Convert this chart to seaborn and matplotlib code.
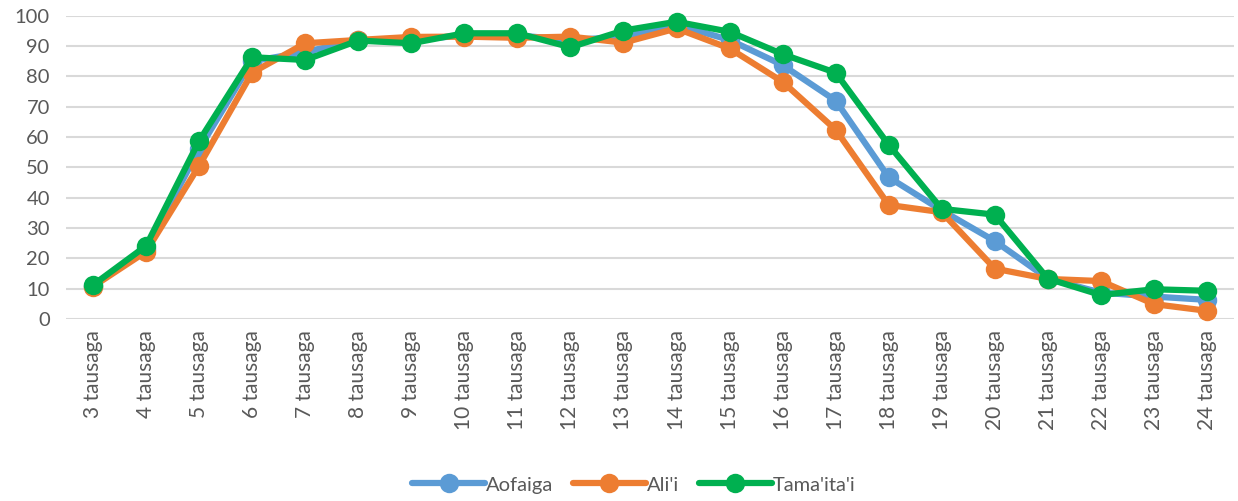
import matplotlib
matplotlib.use("Agg")
import matplotlib.pyplot as plt
import seaborn as sns
import pandas as pd

categories = [f"{i} tausaga" for i in range(3, 25)]
aofaiga = [11, 23, 56, 85, 88, 92, 92, 93.5, 93.5, 92, 93, 97, 92, 83.7, 72, 46.7, 35.8, 25.7, 13.3, 8.7, 7.4, 6.3]
alii = [10.7, 22.2, 50.5, 81.2, 90.9, 92, 93, 93.1, 92.7, 93.1, 91.1, 95.8, 89.2, 78.2, 62.4, 37.6, 35.2, 16.6, 13.2, 12.5, 4.9, 2.7]
tamaitai = [11.2, 24.1, 58.7, 86.3, 85.4, 91.8, 90.9, 94.2, 94.2, 89.6, 95.1, 98, 94.7, 87.3, 81.2, 57.4, 36.3, 34.4, 13.3, 7.9, 9.8, 9.3]
series_names = ["Aofaiga", "Ali'i", "Tama'ita'i"]
colors = ["#5B9BD5", "#ED7D31", "#00B050"]

rows = []
for name, vals in zip(series_names, [aofaiga, alii, tamaitai]):
    for c, v in zip(categories, vals):
        rows.append({"cat": c, "val": v, "series": name})
df = pd.DataFrame(rows)

sns.set_theme(style="white")
plt.rcParams['font.family'] = ['Lato', 'DejaVu Sans']

fig = plt.figure(figsize=(12.38, 5.01), dpi=100)
ax = fig.add_axes([0.0537, 0.3633, 0.9427, 0.6054])

sns.lineplot(data=df, x="cat", y="val", hue="series", hue_order=series_names,
             palette=colors, marker="o", markersize=14, linewidth=4.5,
             markeredgewidth=0, sort=False, ax=ax, clip_on=False, zorder=3)

ax.set_xlim(-0.5, len(categories) - 0.5)
ax.set_ylim(0, 100)
ax.set_yticks(range(0, 101, 10))
ax.yaxis.grid(True, color="#D9D9D9", linewidth=1.5)
ax.xaxis.grid(False)
for s in ax.spines.values():
    s.set_visible(False)
ax.set_xlabel("")
ax.set_ylabel("")
ax.tick_params(axis="y", labelsize=14.5, colors="#595959", length=0, pad=12)
ax.tick_params(axis="x", labelsize=15, colors="#595959", length=0, pad=8)
plt.setp(ax.get_xticklabels(), rotation=90)

handles, labels = ax.get_legend_handles_labels()
ax.get_legend().remove()
fig.legend(handles, labels, loc="center", bbox_to_anchor=(0.512, 0.032), ncol=3,
           frameon=False, fontsize=14.5, handlelength=3.6, columnspacing=1.0,
           handletextpad=0.05, labelcolor="#595959", borderaxespad=0)

fig.savefig("out.png", dpi=100)
